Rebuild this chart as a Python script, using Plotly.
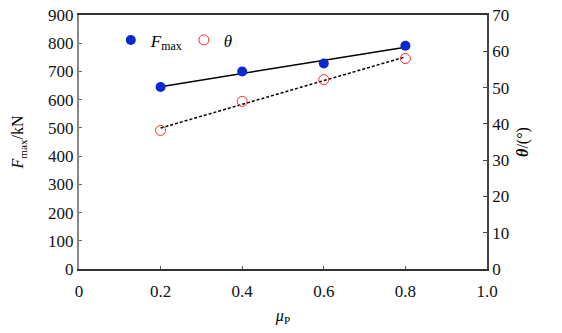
import numpy as np
import plotly.graph_objects as go

mu = [0.2, 0.4, 0.6, 0.8]
fmax = [645, 700, 728, 791]
theta = [38.2, 46.2, 52.2, 58.0]
x_ticks = [0, 0.2, 0.4, 0.6, 0.8, 1.0]
x_ticktext = ["0", "0.2", "0.4", "0.6", "0.8", "1.0"]

pf = np.polyfit(mu, fmax, 1)
pt = np.polyfit(mu, theta, 1)
xf = [mu[0], mu[-1]]

FONT = "Liberation Serif"
TICKFONT = dict(family=FONT, size=17, color="#111")

fig = go.Figure()
fig.add_trace(go.Scatter(x=xf, y=list(np.polyval(pf, xf)), mode="lines",
                         line=dict(color="black", width=1.5), showlegend=False))
fig.add_trace(go.Scatter(x=xf, y=list(np.polyval(pt, xf)), mode="lines", yaxis="y2",
                         line=dict(color="black", width=1.5, dash="3px,2px"), showlegend=False))
fig.add_trace(go.Scatter(x=mu, y=fmax, mode="markers", name="<i>F</i><sub>max</sub>",
                         marker=dict(color="#0a28d0", size=10, line=dict(width=0))))
fig.add_trace(go.Scatter(x=mu, y=theta, mode="markers", name="<i>θ</i>", yaxis="y2",
                         marker=dict(color="#ff2a2a", size=10, symbol="circle-open",
                                     line=dict(width=1))))

fig.update_layout(
    width=562, height=333,
    margin=dict(l=79, r=75, t=15, b=64, autoexpand=False),
    paper_bgcolor="white", plot_bgcolor="white",
    font=dict(family=FONT, size=16, color="black"),
    showlegend=True,
    legend=dict(orientation="h", x=0.078, y=0.9, xanchor="left", yanchor="middle",
                bgcolor="rgba(0,0,0,0)", font=dict(size=17), entrywidth=28,
                tracegroupgap=0),
    xaxis=dict(range=[0, 1], tickvals=x_ticks, ticktext=x_ticktext, automargin=False,
               showgrid=False, zeroline=False, showline=True, linecolor="#333",
               linewidth=2, mirror=True, ticks="inside", ticklen=3, tickcolor="#555",
               ticklabelstandoff=6, tickfont=TICKFONT,
               title=dict(text="<i>μ</i><sub>P</sub>", standoff=9, font=dict(size=16))),
    yaxis=dict(range=[0, 900], dtick=100, showgrid=False, zeroline=False, automargin=False,
               showline=True, linecolor="#888", linewidth=2, ticks="inside", ticklen=3,
               tickcolor="#666", tickfont=TICKFONT,
               title=dict(text="<i>F</i><sub>max</sub>/kN", standoff=20, font=dict(size=16))),
    yaxis2=dict(range=[0, 70], dtick=10, overlaying="y", side="right", showgrid=False,
                zeroline=False, showline=True, linecolor="#444", linewidth=1.5, automargin=False,
                ticks="inside", ticklen=4, tickcolor="#444", tickfont=TICKFONT,
                title=dict(text="<b><i>θ</i></b>/(°)", standoff=9, font=dict(size=16))),
)

fig.write_html("out.html")
